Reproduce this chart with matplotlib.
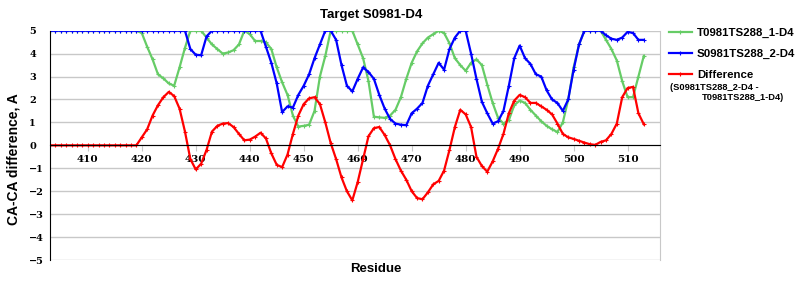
import matplotlib
matplotlib.use('Agg')
import matplotlib.pyplot as plt

# residues 403..513
residues = list(range(403, 514))

t0981 = [5.0] * 17 + [
    4.9, 4.3, 3.75, 3.1, 2.92, 2.7, 2.6, 3.4, 4.25, 5.0,          # 420-429
    5.0, 5.0, 4.7, 4.4, 4.2, 4.0, 4.05, 4.15, 4.4, 5.0,           # 430-439
    4.85, 4.55, 4.55, 4.5, 4.2, 3.4, 2.75, 2.2, 1.3, 0.82,        # 440-449
    0.85, 0.9, 1.5, 3.0, 3.9, 5.0, 5.0, 5.0, 5.0, 5.0,            # 450-459
    4.4, 3.8, 2.8, 1.25, 1.22, 1.2, 1.3, 1.55, 2.1, 2.9,          # 460-469
    3.6, 4.1, 4.45, 4.7, 4.85, 5.0, 4.9, 4.45, 3.8, 3.5,          # 470-479
    3.25, 3.6, 3.75, 3.5, 2.65, 1.85, 1.2, 0.95, 1.1, 1.75,       # 480-489
    1.95, 1.85, 1.55, 1.3, 1.05, 0.85, 0.7, 0.58, 1.0, 2.0,       # 490-499
    3.4, 4.4, 5.0, 5.0, 5.0, 5.0, 4.6, 4.2, 3.7, 2.8,             # 500-509
    2.1, 2.1, 3.0, 3.9]                                           # 510-513

s0981 = [5.0] * 17 + [
    5.0, 5.0, 5.0, 5.0, 5.0, 5.0, 5.0, 5.0, 5.0, 4.2,             # 420-429
    3.95, 3.93, 4.75, 5.0, 5.0, 5.0, 5.0, 5.0, 5.0, 5.0,          # 430-439
    5.0, 5.0, 5.0, 4.3, 3.6, 2.7, 1.45, 1.7, 1.65, 2.2,           # 440-449
    2.6, 3.1, 3.8, 4.4, 5.0, 5.0, 4.6, 3.5, 2.6, 2.35,            # 450-459
    2.9, 3.4, 3.2, 2.9, 2.2, 1.6, 1.15, 0.95, 0.9, 0.88,          # 460-469
    1.4, 1.6, 1.85, 2.6, 3.1, 3.6, 3.3, 4.2, 4.7, 5.0,            # 470-479
    5.0, 4.0, 2.9, 1.9, 1.4, 0.95, 1.05, 1.5, 2.6, 3.8,           # 480-489
    4.35, 3.8, 3.55, 3.1, 3.0, 2.4, 2.0, 1.85, 1.5, 2.0,          # 490-499
    3.3, 4.4, 5.0, 5.0, 5.0, 5.0, 4.8, 4.65, 4.6, 4.7,            # 500-509
    4.95, 4.9, 4.6, 4.6]                                          # 510-513

difference = [0.0] * 17 + [
    0.35, 0.7, 1.3, 1.75, 2.1, 2.33, 2.15, 1.6, 0.6, -0.6,        # 420-429
    -1.05, -0.8, -0.2, 0.6, 0.85, 0.95, 0.97, 0.8, 0.5, 0.22,     # 430-439
    0.25, 0.38, 0.55, 0.3, -0.35, -0.85, -0.95, -0.4, 0.5, 1.3,   # 440-449
    1.8, 2.05, 2.1, 1.8, 1.0, 0.1, -0.6, -1.4, -2.0, -2.4,        # 450-459
    -1.6, -0.6, 0.4, 0.75, 0.8, 0.45, 0.0, -0.6, -1.1, -1.5,      # 460-469
    -2.0, -2.3, -2.35, -2.05, -1.7, -1.55, -1.1, -0.2, 0.8, 1.55, # 470-479
    1.35, 0.8, -0.5, -0.9, -1.15, -0.7, -0.15, 0.5, 1.4, 1.95,    # 480-489
    2.2, 2.1, 1.85, 1.85, 1.7, 1.55, 1.35, 0.95, 0.5, 0.35,       # 490-499
    0.28, 0.2, 0.12, 0.05, 0.02, 0.15, 0.22, 0.5, 0.95, 2.1,      # 500-509
    2.5, 2.55, 1.4, 0.92]                                         # 510-513

xticks = [410, 420, 430, 440, 450, 460, 470, 480, 490, 500, 510]
yticks = [-5, -4, -3, -2, -1, 0, 1, 2, 3, 4, 5]

fig = plt.figure(figsize=(8, 3), dpi=100)
ax = fig.add_axes([0.0625, 0.1333, 0.7625, 0.7644])

style = dict(lw=1.6, marker='+', markersize=3, mew=0.8)
l1, = ax.plot(residues, t0981, color='#66cc66', **style)
l2, = ax.plot(residues, s0981, color='#0000ff', **style)
l3, = ax.plot(residues, difference, color='#ff0000', **style)

ax.set_xlim(403, 516)
ax.set_ylim(-5, 5)
ax.set_yticks(yticks)
ax.set_xticks(xticks)
ax.yaxis.grid(True, color='#c8c8c8', lw=1)
ax.set_axisbelow(True)

ax.spines['bottom'].set_position(('data', 0))
ax.spines['bottom'].set_color('black')
ax.spines['left'].set_color('black')
ax.spines['top'].set_visible(False)
ax.spines['right'].set_color('#c8c8c8')

ax.tick_params(axis='x', direction='out', length=4, color='#c8c8c8', pad=3)
ax.tick_params(axis='y', length=0, pad=15)
ax.set_yticklabels(['\u2212' + str(-v) if v < 0 else str(v) for v in yticks],
                   family='DejaVu Serif', fontweight='bold', fontsize=7, ha='left')
ax.set_xticklabels([str(v) for v in xticks],
                   family='DejaVu Serif', fontweight='bold', fontsize=7.5)

ax.set_xlabel('Residue', family='Liberation Sans', fontweight='bold', fontsize=9.5)
ax.xaxis.set_label_coords(0.534, -0.015)
ax.xaxis.label.set_verticalalignment('top')
ax.set_ylabel('CA-CA difference, A', family='Liberation Sans', fontweight='bold', fontsize=10)
ax.yaxis.set_label_coords(-0.048, 0.44)

fig.text(371 / 800, 1 - 15 / 300, 'Target S0981-D4', ha='center', va='center',
         family='Liberation Sans', fontweight='bold', fontsize=9.5)

fig.legend([l1, l2, l3], ['T0981TS288_1-D4', 'S0981TS288_2-D4', 'Difference'],
           loc='upper left', bbox_to_anchor=(669 / 800, 1 - 28 / 300),
           frameon=False, borderpad=0, borderaxespad=0, numpoints=1,
           handlelength=2.0, handletextpad=0.45, labelspacing=0.95,
           prop={'family': 'Liberation Sans', 'weight': 'bold', 'size': 8.2})
fig.text(670 / 800, 1 - 87 / 300, '(S0981TS288_2-D4 -', ha='left', va='center',
         family='Liberation Sans', fontweight='bold', fontsize=6.7)
fig.text(702 / 800, 1 - 98 / 300, 'T0981TS288_1-D4)', ha='left', va='center',
         family='Liberation Sans', fontweight='bold', fontsize=6.7)

fig.savefig('out.png', dpi=100)
